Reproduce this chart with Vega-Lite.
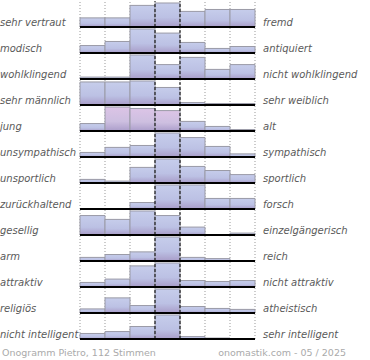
{
  "$schema": "https://vega.github.io/schema/vega-lite/v6.json",
  "padding": 0,
  "config": {"view": {"stroke": null}},
  "datasets": {
    "labels": [
      {"p": 1, "l": "sehr vertraut", "r": "fremd"},
      {"p": 2, "l": "modisch", "r": "antiquiert"},
      {"p": 3, "l": "wohlklingend", "r": "nicht wohlklingend"},
      {"p": 4, "l": "sehr männlich", "r": "sehr weiblich"},
      {"p": 5, "l": "\u00a0jung", "r": "alt"},
      {"p": 6, "l": "unsympathisch", "r": "sympathisch"},
      {"p": 7, "l": "unsportlich", "r": "sportlich"},
      {"p": 8, "l": "zurückhaltend", "r": "forsch"},
      {"p": 9, "l": "gesellig", "r": "einzelgängerisch"},
      {"p": 10, "l": "arm", "r": "reich"},
      {"p": 11, "l": "attraktiv", "r": "nicht attraktiv"},
      {"p": 12, "l": "religiös", "r": "atheistisch"},
      {"p": 13, "l": "nicht intelligent", "r": "sehr intelligent"}
    ],
    "bars": [
      {"p":1,"c":0,"v":38},{"p":1,"c":1,"v":38},{"p":1,"c":2,"v":90},{"p":1,"c":3,"v":100},{"p":1,"c":4,"v":65},{"p":1,"c":5,"v":73},{"p":1,"c":6,"v":73},
      {"p":2,"c":0,"v":31},{"p":2,"c":1,"v":48},{"p":2,"c":2,"v":100},{"p":2,"c":3,"v":83},{"p":2,"c":4,"v":44},{"p":2,"c":5,"v":19},{"p":2,"c":6,"v":27},
      {"p":3,"c":0,"v":8},{"p":3,"c":1,"v":8},{"p":3,"c":2,"v":100},{"p":3,"c":3,"v":60},{"p":3,"c":4,"v":90},{"p":3,"c":5,"v":40},{"p":3,"c":6,"v":60},
      {"p":4,"c":0,"v":96},{"p":4,"c":1,"v":96},{"p":4,"c":2,"v":100},{"p":4,"c":3,"v":73},{"p":4,"c":4,"v":10},{"p":4,"c":5,"v":6},{"p":4,"c":6,"v":6},
      {"p":5,"c":0,"v":31},{"p":5,"c":1,"v":100,"t":1},{"p":5,"c":2,"v":94,"t":1},{"p":5,"c":3,"v":85,"t":1},{"p":5,"c":4,"v":40},{"p":5,"c":5,"v":19},{"p":5,"c":6,"v":6},
      {"p":6,"c":0,"v":19},{"p":6,"c":1,"v":40},{"p":6,"c":2,"v":48},{"p":6,"c":3,"v":100},{"p":6,"c":4,"v":81},{"p":6,"c":5,"v":44},{"p":6,"c":6,"v":13},
      {"p":7,"c":0,"v":15},{"p":7,"c":1,"v":8},{"p":7,"c":2,"v":65},{"p":7,"c":3,"v":100},{"p":7,"c":4,"v":69},{"p":7,"c":5,"v":52},{"p":7,"c":6,"v":35},
      {"p":8,"c":0,"v":0},{"p":8,"c":1,"v":0},{"p":8,"c":2,"v":27},{"p":8,"c":3,"v":100},{"p":8,"c":4,"v":100},{"p":8,"c":5,"v":44},{"p":8,"c":6,"v":44},
      {"p":9,"c":0,"v":81},{"p":9,"c":1,"v":65},{"p":9,"c":2,"v":100},{"p":9,"c":3,"v":81},{"p":9,"c":4,"v":33},{"p":9,"c":5,"v":0},{"p":9,"c":6,"v":8},
      {"p":10,"c":0,"v":15},{"p":10,"c":1,"v":27},{"p":10,"c":2,"v":38},{"p":10,"c":3,"v":100},{"p":10,"c":4,"v":15},{"p":10,"c":5,"v":10},{"p":10,"c":6,"v":0},
      {"p":11,"c":0,"v":19},{"p":11,"c":1,"v":33},{"p":11,"c":2,"v":88},{"p":11,"c":3,"v":100},{"p":11,"c":4,"v":27},{"p":11,"c":5,"v":23},{"p":11,"c":6,"v":27},
      {"p":12,"c":0,"v":17},{"p":12,"c":1,"v":63},{"p":12,"c":2,"v":31},{"p":12,"c":3,"v":100},{"p":12,"c":4,"v":27},{"p":12,"c":5,"v":19},{"p":12,"c":6,"v":15},
      {"p":13,"c":0,"v":23},{"p":13,"c":1,"v":31},{"p":13,"c":2,"v":52},{"p":13,"c":3,"v":100},{"p":13,"c":4,"v":10},{"p":13,"c":5,"v":4},{"p":13,"c":6,"v":0}
    ]
  },
  "data": {"name": "bars"},
  "transform": [
    {"lookup": "p", "from": {"data": {"name": "labels"}, "key": "p", "fields": ["l", "r"]}}
  ],
  "facet": {"row": {"field": "p", "type": "ordinal", "header": null}},
  "spacing": 0,
  "bounds": "flush",
  "spec": {
    "width": 175,
    "height": 26,
    "encoding": {
      "x": {"field": "c", "type": "ordinal", "axis": null, "scale": {"paddingInner": 0, "paddingOuter": 0}},
      "y": {"field": "v", "type": "quantitative", "axis": null, "scale": {"domain": [0, 108.33], "nice": false}}
    },
    "layer": [
      {
        "transform": [{"filter": "datum.c == 0"}],
        "mark": {"type": "bar", "fill": "#eeeeee"},
        "encoding": {"x": {"datum": 3}, "y": {"datum": 108.33}}
      },
      {
        "mark": {"type": "rule", "color": "#999999", "strokeDash": [1, 2], "strokeWidth": 1},
        "encoding": {"x": {"field": "c", "type": "ordinal", "bandPosition": 0}, "y": {"datum": 0}, "y2": {"datum": 108.33}}
      },
      {
        "transform": [{"filter": "datum.c == 0"}],
        "mark": {"type": "rule", "color": "#999999", "strokeDash": [1, 2], "strokeWidth": 1},
        "encoding": {"x": {"datum": 6, "bandPosition": 1}, "y": {"datum": 0}, "y2": {"datum": 108.33}}
      },
      {
        "transform": [{"filter": "datum.v > 0 && !datum.t"}],
        "mark": {"type": "bar", "stroke": "#9a9aa6", "strokeWidth": 1,
          "fill": {"gradient": "linear", "x1": 0, "y1": 0, "x2": 0, "y2": 1,
            "stops": [{"offset": 0, "color": "#c6cdeb"}, {"offset": 0.6, "color": "#bcc1e4"}, {"offset": 1, "color": "#a89cc8"}]}}
      },
      {
        "transform": [{"filter": "datum.v > 0 && datum.t"}],
        "mark": {"type": "bar", "stroke": "#9a9aa6", "strokeWidth": 1,
          "fill": {"gradient": "linear", "x1": 0, "y1": 0, "x2": 0, "y2": 1,
            "stops": [{"offset": 0, "color": "#dcc4e6"}, {"offset": 0.6, "color": "#cdbfe0"}, {"offset": 1, "color": "#ab9dca"}]}}
      },
      {
        "transform": [{"filter": "datum.c == 0"}],
        "mark": {"type": "rule", "color": "#000000", "strokeDash": [3, 2], "strokeWidth": 1},
        "encoding": {"x": {"datum": 3, "bandPosition": 0}, "y": {"datum": 0}, "y2": {"datum": 108.33}}
      },
      {
        "transform": [{"filter": "datum.c == 0"}],
        "mark": {"type": "rule", "color": "#000000", "strokeDash": [3, 2], "strokeWidth": 1},
        "encoding": {"x": {"datum": 3, "bandPosition": 1}, "y": {"datum": 0}, "y2": {"datum": 108.33}}
      },
      {
        "transform": [{"filter": "datum.c == 0"}],
        "mark": {"type": "rule", "color": "#000000", "strokeWidth": 2},
        "encoding": {"x": {"datum": 0, "bandPosition": 0}, "x2": {"datum": 6, "bandPosition": 1}, "y": {"datum": 0}}
      },
      {
        "transform": [{"filter": "datum.c == 0"}],
        "mark": {"type": "text", "align": "left", "baseline": "alphabetic", "dx": -80, "font": "DejaVu Sans", "fontStyle": "italic", "fontSize": 10, "color": "#5a5a5a"},
        "encoding": {"x": {"datum": 0, "bandPosition": 0}, "y": {"datum": 6}, "text": {"field": "l"}}
      },
      {
        "transform": [{"filter": "datum.c == 0"}],
        "mark": {"type": "text", "align": "left", "baseline": "alphabetic", "dx": 8, "font": "DejaVu Sans", "fontStyle": "italic", "fontSize": 10, "color": "#5a5a5a"},
        "encoding": {"x": {"datum": 6, "bandPosition": 1}, "y": {"datum": 6}, "text": {"field": "r"}}
      },
      {
        "transform": [{"filter": "datum.c == 0 && datum.p == 13"}],
        "mark": {"type": "text", "align": "left", "baseline": "alphabetic", "dx": -78, "font": "DejaVu Sans", "fontSize": 9.5, "color": "#aaaaaa", "text": "Onogramm Pietro, 112 Stimmen"},
        "encoding": {"x": {"datum": 0, "bandPosition": 0}, "y": {"datum": -72}}
      },
      {
        "transform": [{"filter": "datum.c == 0 && datum.p == 13"}],
        "mark": {"type": "text", "align": "right", "baseline": "alphabetic", "dx": 91, "font": "DejaVu Sans", "fontSize": 9.5, "color": "#aaaaaa", "text": "onomastik.com - 05 / 2025"},
        "encoding": {"x": {"datum": 6, "bandPosition": 1}, "y": {"datum": -72}}
      }
    ]
  }
}
